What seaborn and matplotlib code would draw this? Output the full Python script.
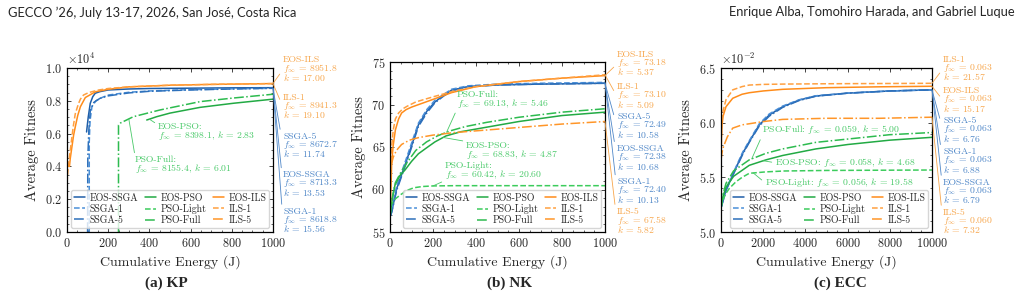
import numpy as np
import pandas as pd
import matplotlib
matplotlib.use("Agg")
import matplotlib.pyplot as plt
import seaborn as sns
from matplotlib.lines import Line2D
from matplotlib.ticker import AutoMinorLocator

# -----------------------------------
# Data
# -----------------------------------

METHODS = ["EOS-SSGA", "SSGA-1", "SSGA-5",
           "EOS-PSO", "PSO-Light", "PSO-Full",
           "EOS-ILS", "ILS-1", "ILS-5"]

# (a) KP
kp_eos_ssga_x = [95, 103, 113, 125, 137, 160, 200, 300, 400, 600, 800, 1000]
kp_eos_ssga_y = [6100, 7000, 7850, 8250, 8460, 8560, 8660, 8720, 8750, 8770, 8790, 8800]
kp_ssga1_x = [108, 108, 112, 121, 140, 170, 200, 300, 400, 600, 800, 1000]
kp_ssga1_y = [0, 5500, 6800, 7640, 8000, 8200, 8350, 8520, 8600, 8680, 8730, 8760]
kp_ssga5_x = [100, 101, 106, 113, 130, 160, 200, 300, 400, 600, 800, 1000]
kp_ssga5_y = [0, 4500, 6200, 7400, 7900, 8150, 8300, 8480, 8580, 8660, 8720, 8770]
kp_eos_pso_x = [387, 400, 435, 500, 646, 808, 1000]
kp_eos_pso_y = [6830, 6880, 7030, 7250, 7600, 7850, 8100]
kp_pso_full_x = [250, 250, 260, 322, 451, 550, 646, 808, 1000]
kp_pso_full_y = [0, 6520, 6650, 7030, 7440, 7700, 7950, 8170, 8400]
kp_eos_ils_x = [8, 12, 16, 24, 32, 40, 52, 65, 89, 138, 200, 300, 500, 700, 1000]
kp_eos_ils_y = [4000, 4000, 4500, 5200, 5900, 6400, 7100, 7640, 8200, 8550, 8700, 8850, 8950, 9000, 9050]
kp_ils1_x = [0, 5, 12, 21, 30, 40, 55, 65, 80, 105, 150, 200, 300, 500, 700, 1000]
kp_ils1_y = [3000, 3800, 4600, 5500, 6400, 7200, 7800, 8100, 8350, 8500, 8650, 8750, 8850, 8950, 9000, 9050]

# (b) NK
nk_eos_ssga_x = [0, 8, 31, 70, 101, 132, 171, 209, 250, 287, 364, 500, 700, 1000]
nk_eos_ssga_y = [56.8, 57.4, 60.1, 62.9, 65.2, 67.6, 69.2, 70.3, 71.1, 71.7, 72.1, 72.3, 72.4, 72.5]
nk_ssga1_x = [0, 8, 31, 70, 101, 132, 171, 209, 250, 287, 364, 500, 700, 1000]
nk_ssga1_y = [56.8, 57.6, 60.4, 63.2, 65.5, 67.8, 69.4, 70.5, 71.2, 71.8, 72.2, 72.4, 72.5, 72.6]
nk_ssga5_x = [0, 8, 31, 70, 101, 132, 171, 209, 250, 287, 364, 500, 700, 1000]
nk_ssga5_y = [56.8, 57.3, 59.9, 62.7, 65.0, 67.4, 69.0, 70.2, 71.0, 71.6, 72.1, 72.3, 72.4, 72.5]
nk_eos_pso_x = [0, 10, 23, 45, 70, 100, 132, 170, 209, 260, 330, 465, 600, 800, 1000]
nk_eos_pso_y = [56.8, 58.8, 60.5, 61.6, 62.3, 63.3, 64.2, 64.9, 65.6, 66.3, 66.8, 67.4, 68.0, 68.7, 69.1]
nk_pso_light_x = [0, 10, 25, 50, 80, 110, 150, 200, 300, 500, 1000]
nk_pso_light_y = [58.0, 58.4, 58.9, 59.4, 59.9, 60.2, 60.35, 60.42, 60.45, 60.45, 60.45]
nk_pso_full_x = [0, 10, 25, 50, 80, 120, 170, 220, 280, 350, 450, 600, 800, 1000]
nk_pso_full_y = [56.8, 59.0, 60.8, 62.0, 63.2, 64.6, 65.6, 66.3, 66.9, 67.4, 67.9, 68.5, 69.1, 69.5]
nk_eos_ils_x = [0, 5, 8, 15, 25, 40, 54, 75, 101, 178, 287, 400, 600, 800, 1000]
nk_eos_ils_y = [57.5, 60.5, 63.3, 65.2, 67.0, 68.3, 69.0, 69.4, 69.7, 70.4, 71.4, 72.1, 72.7, 73.1, 73.4]
nk_ils1_x = [0, 4, 8, 15, 25, 40, 60, 80, 120, 200, 300, 400, 600, 800, 1000]
nk_ils1_y = [58.5, 62.0, 65.0, 67.0, 68.3, 69.0, 69.5, 69.8, 70.3, 70.9, 71.6, 72.1, 72.7, 73.1, 73.5]
nk_ils5_x = [0, 5, 15, 30, 54, 90, 132, 200, 300, 400, 600, 800, 1000]
nk_ils5_y = [61.0, 62.8, 63.8, 64.6, 65.3, 65.8, 66.1, 66.4, 66.7, 66.9, 67.3, 67.7, 68.0]

# (c) ECC
ecc_eos_ssga_x = [0, 237, 555, 1028, 1341, 1815, 2289, 2925, 3711, 4500, 6000, 8000, 10000]
ecc_eos_ssga_y = [0.0522, 0.05384, 0.05521, 0.0572, 0.05826, 0.0598, 0.0607, 0.06146, 0.06207, 0.06244, 0.0627, 0.0629, 0.0630]
ecc_ssga1_x = [0, 237, 555, 1028, 1341, 1815, 2289, 2925, 3711, 4500, 6000, 8000, 10000]
ecc_ssga1_y = [0.0522, 0.05390, 0.05530, 0.0573, 0.05835, 0.0599, 0.0608, 0.06152, 0.06210, 0.06246, 0.0627, 0.0629, 0.0630]
ecc_ssga5_x = [0, 237, 555, 1028, 1341, 1815, 2289, 2925, 3711, 4500, 6000, 8000, 10000]
ecc_ssga5_y = [0.0522, 0.05380, 0.05515, 0.0571, 0.05820, 0.0597, 0.0606, 0.06140, 0.06203, 0.06242, 0.0627, 0.0629, 0.0630]
ecc_eos_pso_x = [0, 100, 237, 600, 1341, 2133, 2925, 4500, 6000, 8000, 10000]
ecc_eos_pso_y = [0.0524, 0.0533, 0.0541, 0.0551, 0.0561, 0.0566, 0.0570, 0.0576, 0.0580, 0.0584, 0.05866]
ecc_pso_light_x = [0, 100, 237, 400, 711, 1000, 1341, 2133, 3000, 5000, 10000]
ecc_pso_light_y = [0.0522, 0.0530, 0.05354, 0.0540, 0.0546, 0.0550, 0.05537, 0.0555, 0.05558, 0.05563, 0.05567]
ecc_pso_full_x = [0, 100, 237, 600, 1341, 2133, 2925, 4500, 6000, 8000, 10000]
ecc_pso_full_y = [0.0523, 0.0535, 0.05445, 0.0556, 0.0566, 0.0572, 0.0576, 0.0582, 0.0585, 0.0589, 0.0591]
ecc_eos_ils_x = [0, 20, 50, 100, 237, 555, 1000, 1341, 2000, 2925, 5000, 7500, 10000]
ecc_eos_ils_y = [0.0560, 0.0585, 0.0598, 0.0606, 0.06146, 0.06223, 0.0626, 0.06274, 0.0629, 0.06305, 0.0632, 0.06328, 0.06333]
ecc_ils1_x = [0, 20, 50, 100, 237, 555, 1000, 1341, 2000, 3000, 5000, 7500, 10000]
ecc_ils1_y = [0.0565, 0.0592, 0.0603, 0.0611, 0.0621, 0.0630, 0.0633, 0.06344, 0.06350, 0.06353, 0.06356, 0.06358, 0.0636]
ecc_ils5_x = [0, 30, 80, 157, 300, 555, 1000, 1340, 2000, 2925, 5000, 7500, 10000]
ecc_ils5_y = [0.0566, 0.0570, 0.0576, 0.0580, 0.0587, 0.0595, 0.0598, 0.0599, 0.0601, 0.0603, 0.0604, 0.0604, 0.0605]

# end-point labels: (method, f_inf, k)
kp_end_labels = [("EOS-ILS", "8951.8", "17.00"), ("ILS-1", "8941.3", "19.10"),
                 ("SSGA-5", "8672.7", "11.74"), ("EOS-SSGA", "8713.3", "13.53"),
                 ("SSGA-1", "8618.8", "15.56")]
nk_end_labels = [("EOS-ILS", "73.18", "5.37"), ("ILS-1", "73.10", "5.09"),
                 ("SSGA-5", "72.49", "10.58"), ("EOS-SSGA", "72.38", "10.68"),
                 ("SSGA-1", "72.40", "10.13"), ("ILS-5", "67.58", "5.82")]
ecc_end_labels = [("ILS-1", "0.063", "21.57"), ("EOS-ILS", "0.063", "15.17"),
                  ("SSGA-5", "0.063", "6.76"), ("SSGA-1", "0.063", "6.88"),
                  ("EOS-SSGA", "0.063", "6.79"), ("ILS-5", "0.060", "7.32")]

# PSO labels inside the axes: (method, f_inf, k, energy the leader points at)
kp_pso_labels = [("EOS-PSO", "8398.1", "2.83", 400), ("PSO-Full", "8155.4", "6.01", 300)]
nk_pso_labels = [("PSO-Full", "69.13", "5.46", 263), ("EOS-PSO", "68.83", "4.87", 247),
                 ("PSO-Light", "60.42", "20.60", 200)]
ecc_pso_labels = [("PSO-Full", "0.059", "5.00", 1455), ("EOS-PSO", "0.058", "4.68", 2000),
                  ("PSO-Light", "0.056", "19.58", 1530)]

# -----------------------------------
# Style
# -----------------------------------

sns.set_style("ticks")
plt.rcParams.update({
    "font.family": "cmr10",
    "mathtext.fontset": "cm",
    "axes.formatter.use_mathtext": True,
    "axes.unicode_minus": False,
    "axes.linewidth": 0.9,
    "axes.edgecolor": "black",
    "xtick.direction": "in",
    "ytick.direction": "in",
    "xtick.top": True,
    "ytick.right": True,
    "xtick.major.size": 3,
    "ytick.major.size": 3,
    "xtick.minor.size": 1.5,
    "ytick.minor.size": 1.5,
    "xtick.major.width": 0.6,
    "ytick.major.width": 0.6,
    "xtick.minor.width": 0.5,
    "ytick.minor.width": 0.5,
    "xtick.labelsize": 8.8,
    "ytick.labelsize": 8.8,
})

COLORS = {
    "EOS-SSGA": "#1f5ea8", "SSGA-1": "#4a8fd8", "SSGA-5": "#2d70bb",
    "EOS-PSO": "#22aa44", "PSO-Light": "#3ccc5c", "PSO-Full": "#2dbb4f",
    "EOS-ILS": "#ff8c1a", "ILS-1": "#ffa040", "ILS-5": "#ff9628",
}
STYLES = {
    "EOS-SSGA": "-", "SSGA-1": "--", "SSGA-5": "-.",
    "EOS-PSO": "-", "PSO-Light": "--", "PSO-Full": "-.",
    "EOS-ILS": "-", "ILS-1": "--", "ILS-5": "-.",
}
TEXT_BLUE = "#4f87c8"
TEXT_GREEN = "#48c968"
TEXT_ORANGE = "#f7a64c"
TEXT_COLORS = {m: (TEXT_BLUE if "SSGA" in m else TEXT_GREEN if "PSO" in m else TEXT_ORANGE)
               for m in METHODS}

W, H = 1021, 295
ANN_SIZE = 7.0
ANN_SPACING = 0.74


def draw_panel(ax, series):
    for name in METHODS:
        if name not in series:
            continue
        x, y = series[name]
        df = pd.DataFrame({"energy": x, "fitness": y})
        sns.lineplot(data=df, x="energy", y="fitness", ax=ax,
                     color=COLORS[name], linestyle=STYLES[name],
                     linewidth=1.1, estimator=None, sort=False, legend=False)
    handles = [Line2D([], [], color=COLORS[m], linestyle=STYLES[m], linewidth=1.1)
               for m in METHODS]
    ax.legend(handles, METHODS, loc="lower right", ncol=3, fontsize=7.1,
              frameon=True, framealpha=0.8, edgecolor="0.8", fancybox=True,
              handlelength=1.1, handletextpad=0.45, columnspacing=0.7,
              labelspacing=0.15, borderpad=0.3, borderaxespad=0.4)
    ax.xaxis.set_minor_locator(AutoMinorLocator())
    ax.yaxis.set_minor_locator(AutoMinorLocator())
    ax.set_xlabel("Cumulative Energy (J)", fontsize=10)
    ax.set_ylabel("Average Fitness", fontsize=10.5)


def end_labels(ax, series, labels, x_px, y_px):
    # three-line block: name / f_inf / k, leader from the curve end to its middle
    for (name, finf, k), yp in zip(labels, y_px):
        x, y = series[name]
        col = TEXT_COLORS[name]
        ax.annotate(f"{name}\n$f_\\infty$ = {finf}\n$k$ = {k}",
                    xy=(x[-1], y[-1]), xycoords="data",
                    xytext=(x_px, H - yp), textcoords="figure pixels",
                    ha="left", va="center", fontsize=ANN_SIZE, color=col,
                    linespacing=ANN_SPACING, annotation_clip=False,
                    arrowprops=dict(arrowstyle="-", color=col, lw=0.6,
                                    shrinkA=0, shrinkB=0, relpos=(0, 0.5)))


def pso_labels(ax, series, labels, pos_px, relpos, two_lines=True):
    for (name, finf, k, e), (xp, yp), rp in zip(labels, pos_px, relpos):
        x, y = series[name]
        sep = "\n" if two_lines else " "
        txt = f"{name}:{sep}$f_\\infty$ = {finf}, $k$ = {k}"
        ax.annotate(txt, xy=(e, np.interp(e, x, y)), xycoords="data",
                    xytext=(xp, H - yp), textcoords="figure pixels",
                    ha="left", va="center", fontsize=ANN_SIZE, color=TEXT_GREEN,
                    linespacing=ANN_SPACING, annotation_clip=False,
                    arrowprops=dict(arrowstyle="-", color=TEXT_GREEN, lw=0.6,
                                    shrinkA=0, shrinkB=0, relpos=rp))


def axes_box(left, right, top, bottom):
    return [left / W, (H - bottom) / H, (right - left) / W, (bottom - top) / H]


# -----------------------------------
# Figure
# -----------------------------------

fig = plt.figure(figsize=(W / 100, H / 100), dpi=100)

# (a) KP
kp = {
    "EOS-SSGA": (kp_eos_ssga_x, kp_eos_ssga_y),
    "SSGA-1": (kp_ssga1_x, kp_ssga1_y),
    "SSGA-5": (kp_ssga5_x, kp_ssga5_y),
    "EOS-PSO": (kp_eos_pso_x, kp_eos_pso_y),
    "PSO-Full": (kp_pso_full_x, kp_pso_full_y),
    "EOS-ILS": (kp_eos_ils_x, kp_eos_ils_y),
    "ILS-1": (kp_ils1_x, kp_ils1_y),
}
ax1 = fig.add_axes(axes_box(67, 273, 68, 232))
draw_panel(ax1, kp)
ax1.set_xlim(0, 1000)
ax1.set_ylim(0, 10000)
ax1.set_yticks(np.arange(0, 10001, 2000))
ax1.ticklabel_format(axis="y", style="sci", scilimits=(0, 0), useMathText=True)
ax1.yaxis.get_offset_text().set_fontsize(8.8)
end_labels(ax1, kp, kp_end_labels, 283, [69.5, 107, 146, 184.5, 221])
pso_labels(ax1, kp, kp_pso_labels, [(158, 132.5), (135, 165.5)], [(0, 0.9), (0, 1)])

# (b) NK
nk = {
    "EOS-SSGA": (nk_eos_ssga_x, nk_eos_ssga_y),
    "SSGA-1": (nk_ssga1_x, nk_ssga1_y),
    "SSGA-5": (nk_ssga5_x, nk_ssga5_y),
    "EOS-PSO": (nk_eos_pso_x, nk_eos_pso_y),
    "PSO-Light": (nk_pso_light_x, nk_pso_light_y),
    "PSO-Full": (nk_pso_full_x, nk_pso_full_y),
    "EOS-ILS": (nk_eos_ils_x, nk_eos_ils_y),
    "ILS-1": (nk_ils1_x, nk_ils1_y),
    "ILS-5": (nk_ils5_x, nk_ils5_y),
}
ax2 = fig.add_axes(axes_box(390, 605, 62, 232))
draw_panel(ax2, nk)
ax2.set_xlim(0, 1000)
ax2.set_ylim(55, 75)
ax2.set_yticks([55, 60, 65, 70, 75])
end_labels(ax2, nk, nk_end_labels, 617, [64, 96.5, 126.5, 158.3, 191.5, 221.5])
pso_labels(ax2, nk, nk_pso_labels, [(456.7, 100.3), (466, 151), (445, 171)],
           [(0, 0), (0, 1), (0, 0)])

# (c) ECC
ecc = {
    "EOS-SSGA": (ecc_eos_ssga_x, ecc_eos_ssga_y),
    "SSGA-1": (ecc_ssga1_x, ecc_ssga1_y),
    "SSGA-5": (ecc_ssga5_x, ecc_ssga5_y),
    "EOS-PSO": (ecc_eos_pso_x, ecc_eos_pso_y),
    "PSO-Light": (ecc_pso_light_x, ecc_pso_light_y),
    "PSO-Full": (ecc_pso_full_x, ecc_pso_full_y),
    "EOS-ILS": (ecc_eos_ils_x, ecc_eos_ils_y),
    "ILS-1": (ecc_ils1_x, ecc_ils1_y),
    "ILS-5": (ecc_ils5_x, ecc_ils5_y),
}
ax3 = fig.add_axes(axes_box(721, 932, 68, 232))
draw_panel(ax3, ecc)
ax3.set_xlim(0, 10000)
ax3.set_ylim(0.050, 0.065)
ax3.set_yticks([0.050, 0.055, 0.060, 0.065])
ax3.ticklabel_format(axis="y", style="sci", scilimits=(0, 0), useMathText=True)
ax3.yaxis.get_offset_text().set_fontsize(8.8)
end_labels(ax3, ecc, ecc_end_labels, 943, [68.7, 100.3, 130.3, 161.3, 192, 222])
pso_labels(ax3, ecc, ecc_pso_labels, [(761.7, 130), (775, 162.7), (765, 182.7)],
           [(0, 0), (0, 0.5), (0, 0.5)], two_lines=False)

# page header and sub-captions
fig.text(8 / W, 1 - 12.5 / H, "GECCO ’26, July 13-17, 2026, San José, Costa Rica",
         family="Lato", fontsize=9.3, ha="left", va="center")
fig.text(1015 / W, 1 - 12.5 / H, "Enrique Alba, Tomohiro Harada, and Gabriel Luque",
         family="Lato", fontsize=9.3, ha="right", va="center")
for cx, cap in [(166, "(a) KP"), (510, "(b) NK"), (840, "(c) ECC")]:
    fig.text(cx / W, 1 - 283 / H, cap, family="Liberation Serif",
             fontweight="bold", fontsize=11, ha="center", va="center")

fig.savefig("out.png", dpi=100)
